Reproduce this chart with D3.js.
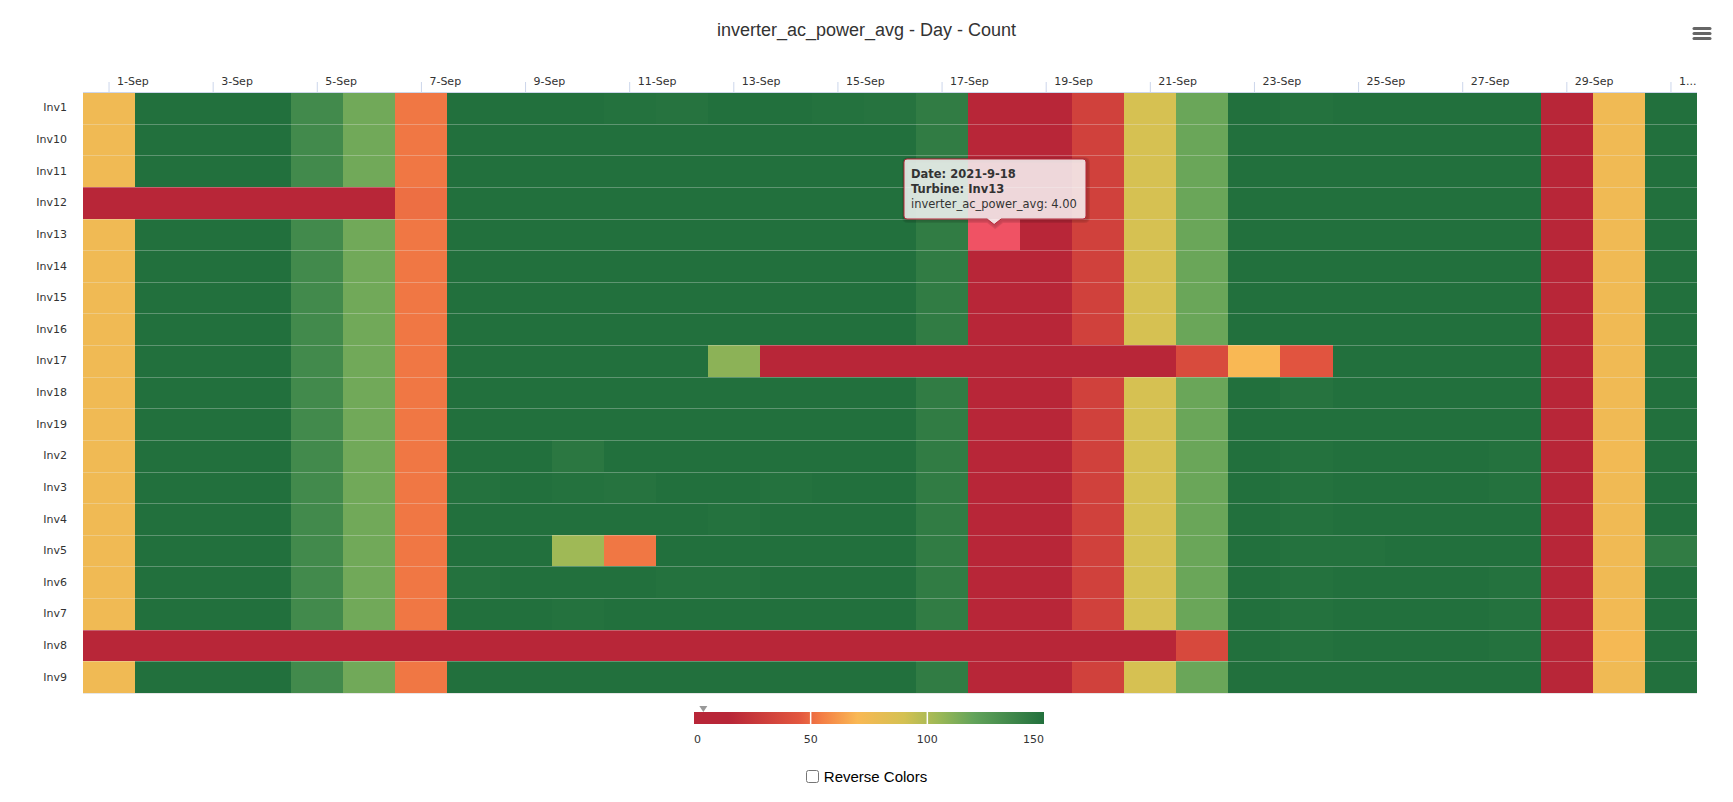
<!DOCTYPE html>
<html>
<head>
<meta charset="utf-8">
<script src="https://cdn.jsdelivr.net/npm/d3@7"></script>
<style>
  body { margin: 0; background: #fff; }
  #chart { position: relative; width: 1733px; height: 802px; }
  #reverse { position: absolute; left: 0; top: 768px; width: 1733px; text-align: center;
    font-family: "Liberation Sans", Arial, sans-serif; font-size: 15px; color: #000; }
  #reverse input { margin: 0 5px 0 0; width: 13px; height: 13px; vertical-align: -1px; }
</style>
</head>
<body>
<div id="chart"></div>

<script>
const title = "inverter_ac_power_avg - Day - Count";

const days = ["2021-9-1","2021-9-2","2021-9-3","2021-9-4","2021-9-5","2021-9-6","2021-9-7","2021-9-8",
  "2021-9-9","2021-9-10","2021-9-11","2021-9-12","2021-9-13","2021-9-14","2021-9-15","2021-9-16",
  "2021-9-17","2021-9-18","2021-9-19","2021-9-20","2021-9-21","2021-9-22","2021-9-23","2021-9-24",
  "2021-9-25","2021-9-26","2021-9-27","2021-9-28","2021-9-29","2021-9-30","2021-10-1"];

const tickDays = ["2021-9-1","2021-9-3","2021-9-5","2021-9-7","2021-9-9","2021-9-11","2021-9-13","2021-9-15",
  "2021-9-17","2021-9-19","2021-9-21","2021-9-23","2021-9-25","2021-9-27","2021-9-29","2021-10-1"];
const tickLabels = ["1-Sep","3-Sep","5-Sep","7-Sep","9-Sep","11-Sep","13-Sep","15-Sep",
  "17-Sep","19-Sep","21-Sep","23-Sep","25-Sep","27-Sep","29-Sep","1..."];

const inverters = ["Inv1","Inv10","Inv11","Inv12","Inv13","Inv14","Inv15","Inv16","Inv17","Inv18",
  "Inv19","Inv2","Inv3","Inv4","Inv5","Inv6","Inv7","Inv8","Inv9"];

// one row of daily counts per inverter, same order as inverters
const counts = [
  [75,150,150,150,135,116,53,150,150,150,149,148,150,150,149,148,143,4,4,32,89,118,150,149,150,150,150,150,4,75,150],
  [75,150,150,150,135,116,53,150,150,150,150,150,150,150,150,150,143,4,4,32,89,118,150,150,150,150,150,150,4,75,150],
  [75,150,150,150,135,116,53,150,150,150,150,150,150,150,150,150,143,4,4,32,89,118,150,150,150,150,150,150,4,75,150],
  [0,0,0,0,0,0,51,150,150,150,150,150,150,150,150,150,143,4,4,32,89,118,150,150,150,150,150,150,4,75,150],
  [75,150,150,150,135,116,53,150,150,150,150,150,150,150,150,150,143,4,4,32,89,118,150,150,150,150,150,150,4,75,150],
  [75,150,150,150,135,116,53,150,150,150,150,150,150,150,150,150,143,4,4,32,89,118,150,150,150,150,150,150,4,75,150],
  [75,150,150,150,135,116,53,150,150,150,150,150,150,150,150,150,143,4,4,32,89,118,150,150,150,150,150,150,4,75,150],
  [75,150,150,150,135,116,53,150,150,150,150,150,150,150,150,150,143,4,4,32,89,118,150,150,150,150,150,150,4,75,150],
  [75,150,150,150,135,116,53,150,150,150,150,150,109,0,0,0,0,0,0,0,0,38,70,44,150,150,150,150,4,75,150],
  [75,150,150,150,135,116,53,150,150,150,150,150,150,150,150,150,143,4,4,32,89,118,150,148,150,150,150,150,4,75,150],
  [75,150,150,150,135,116,53,150,150,150,150,150,150,150,150,150,143,4,4,32,89,118,150,150,150,150,150,150,4,75,150],
  [75,150,150,150,135,116,53,150,150,146,150,150,150,150,150,150,143,4,4,32,89,118,150,149,150,150,150,149,4,74,150],
  [75,150,150,150,135,116,53,149,150,149,148,150,150,149,150,150,143,4,4,32,89,118,150,149,150,150,150,149,4,75,150],
  [75,150,150,150,135,116,53,150,150,150,150,150,149,150,150,150,143,4,4,32,89,118,150,149,150,150,150,150,4,75,150],
  [75,150,150,150,135,116,53,150,150,104,53,150,150,150,150,150,143,4,4,32,89,118,150,149,149,150,150,150,4,75,143],
  [75,150,150,150,135,116,53,149,150,150,150,149,149,150,150,150,143,4,4,32,89,118,150,149,150,150,150,149,4,75,150],
  [75,150,150,150,135,116,53,150,150,149,150,150,150,150,150,150,143,4,4,32,89,118,150,149,150,150,150,149,4,74,150],
  [0,0,0,0,0,0,0,0,0,0,0,0,0,0,0,0,0,0,0,0,0,37,150,149,150,150,150,149,4,72,150],
  [75,150,150,150,135,116,53,150,150,150,150,150,150,150,150,150,143,4,4,32,89,118,150,150,150,150,150,150,4,75,150]
];

const colorStops = [0, 15, 45, 55, 70, 90, 105, 120, 150];
const stopColors = ["#b82638","#b82638","#e2563f","#f47f45","#f9b854","#d4c152","#9bb856","#62a35a","#22703d"];
const legendTicks = [0, 50, 100, 150];

// point shown with the tooltip
const hovered = {day: "2021-9-18", inv: "Inv13"};

const W = 1733, H = 802;
const svg = d3.select("#chart").append("svg")
  .attr("width", W).attr("height", H)
  .style("position", "absolute").style("left", 0).style("top", 0);

const x = d3.scaleBand().domain(days).range([83, 1697]);
const y = d3.scaleBand().domain(inverters).range([92, 693]);
const color = d3.scaleLinear().domain(colorStops).range(stopColors).clamp(true);

svg.append("text")
  .attr("x", W / 2).attr("y", 36)
  .attr("text-anchor", "middle")
  .style("font-family", "'Liberation Sans', Arial, sans-serif")
  .style("font-size", "18px").style("fill", "#333")
  .text(title);

// menu button
svg.append("g").selectAll("line").data([0, 1, 2]).enter().append("line")
  .attr("x1", 1694).attr("x2", 1710)
  .attr("y1", d => 28.5 + d * 5).attr("y2", d => 28.5 + d * 5)
  .attr("stroke", "#666").attr("stroke-width", 3).attr("stroke-linecap", "round");

const cells = [];
inverters.forEach((inv, i) => days.forEach((day, j) => cells.push({inv, day, value: counts[i][j]})));

svg.append("g").attr("shape-rendering", "crispEdges")
  .selectAll("rect").data(cells).enter().append("rect")
  .attr("x", d => x(d.day))
  .attr("y", d => y(d.inv))
  .attr("width", x.bandwidth())
  .attr("height", y.bandwidth())
  .attr("fill", d => (d.day === hovered.day && d.inv === hovered.inv) ? "#f05264" : color(d.value));

// row grid lines
svg.append("g").selectAll("line").data(inverters.slice(1)).enter().append("line")
  .attr("x1", 83).attr("x2", 1697)
  .attr("y1", d => Math.round(y(d)) + 0.5).attr("y2", d => Math.round(y(d)) + 0.5)
  .attr("stroke", "rgba(235,235,235,0.3)");
svg.append("line").attr("x1", 83).attr("x2", 1697).attr("y1", 693.5).attr("y2", 693.5)
  .attr("stroke", "#e6e6e6");

// x axis on top
const xAxis = svg.append("g").attr("transform", "translate(0,92)")
  .call(d3.axisTop(x).tickValues(tickDays).tickSize(10).tickFormat((d, i) => tickLabels[i]));
xAxis.select(".domain").attr("stroke", "#ccd6eb").attr("d", "M83,0.5H1697");
xAxis.selectAll(".tick line").attr("stroke", "#ccd6eb");
xAxis.selectAll(".tick text")
  .attr("y", -7).attr("dy", 0).attr("x", 8)
  .attr("text-anchor", "start")
  .style("font-family", "'DejaVu Sans', sans-serif").style("font-size", "11px").style("fill", "#333");

const yAxis = svg.append("g").attr("transform", "translate(83,0)")
  .call(d3.axisLeft(y).tickSize(0).tickPadding(16));
yAxis.select(".domain").remove();
yAxis.selectAll(".tick text")
  .style("font-family", "'DejaVu Sans', sans-serif").style("font-size", "11px").style("fill", "#333");

// colour legend
const lx = d3.scaleLinear().domain([0, 150]).range([694, 1044]);
const grad = svg.append("defs").append("linearGradient").attr("id", "lg");
grad.selectAll("stop").data(colorStops).enter().append("stop")
  .attr("offset", d => (d / 150 * 100) + "%")
  .attr("stop-color", (d, i) => stopColors[i]);
svg.append("rect").attr("x", lx(0)).attr("y", 712).attr("width", lx(150) - lx(0)).attr("height", 12)
  .attr("fill", "url(#lg)");
svg.append("g").selectAll("line").data(legendTicks.slice(1, -1)).enter().append("line")
  .attr("x1", d => lx(d)).attr("x2", d => lx(d)).attr("y1", 712).attr("y2", 724)
  .attr("stroke", "#fff").attr("stroke-width", 1.5);
svg.append("g").selectAll("text").data(legendTicks).enter().append("text")
  .attr("x", d => lx(d)).attr("y", 743)
  .attr("text-anchor", (d, i) => i === 0 ? "start" : (i === legendTicks.length - 1 ? "end" : "middle"))
  .style("font-family", "'DejaVu Sans', sans-serif").style("font-size", "11px").style("fill", "#333")
  .text(d => d);

const hv = counts[inverters.indexOf(hovered.inv)][days.indexOf(hovered.day)];
const mx = lx(hv);
svg.append("path").attr("d", `M${mx - 4},706L${mx + 4},706L${mx},712Z`).attr("fill", "#999");

// tooltip
const tx = 904, ty = 159, tw = 182, th = 60;
const ax = x(hovered.day) + x.bandwidth() / 2, ay = y(hovered.inv) + 6;
const tipPath = `M${tx + 3},${ty} H${tx + tw - 3} Q${tx + tw},${ty} ${tx + tw},${ty + 3} V${ty + th - 3}
  Q${tx + tw},${ty + th} ${tx + tw - 3},${ty + th} H${ax + 7} L${ax},${ay} L${ax - 7},${ty + th}
  H${tx + 3} Q${tx},${ty + th} ${tx},${ty + th - 3} V${ty + 3} Q${tx},${ty} ${tx + 3},${ty} Z`;
const tip = svg.append("g");
[3, 2, 1].forEach(k => tip.append("path").attr("d", tipPath)
  .attr("transform", `translate(1,1)`)
  .attr("fill", "none").attr("stroke", "#000").attr("stroke-opacity", 0.03 * k).attr("stroke-width", k * 2));
tip.append("path").attr("d", tipPath)
  .attr("fill", "rgba(247,247,247,0.85)").attr("stroke", "#b82638").attr("stroke-width", 1);
const lines = [
  {t: "Date: " + hovered.day, b: true, y: 177.5},
  {t: "Turbine: " + hovered.inv, b: true, y: 193},
  {t: "inverter_ac_power_avg: " + hv.toFixed(2), b: false, y: 208}
];
tip.selectAll("text").data(lines).enter().append("text")
  .attr("x", 911).attr("y", d => d.y)
  .style("font-family", "'DejaVu Sans', sans-serif").style("font-size", "11.5px")
  .style("font-weight", d => d.b ? "bold" : "normal").style("fill", "#333")
  .text(d => d.t);
</script>
<div id="reverse"><label><input type="checkbox">Reverse Colors</label></div>
</body>
</html>
